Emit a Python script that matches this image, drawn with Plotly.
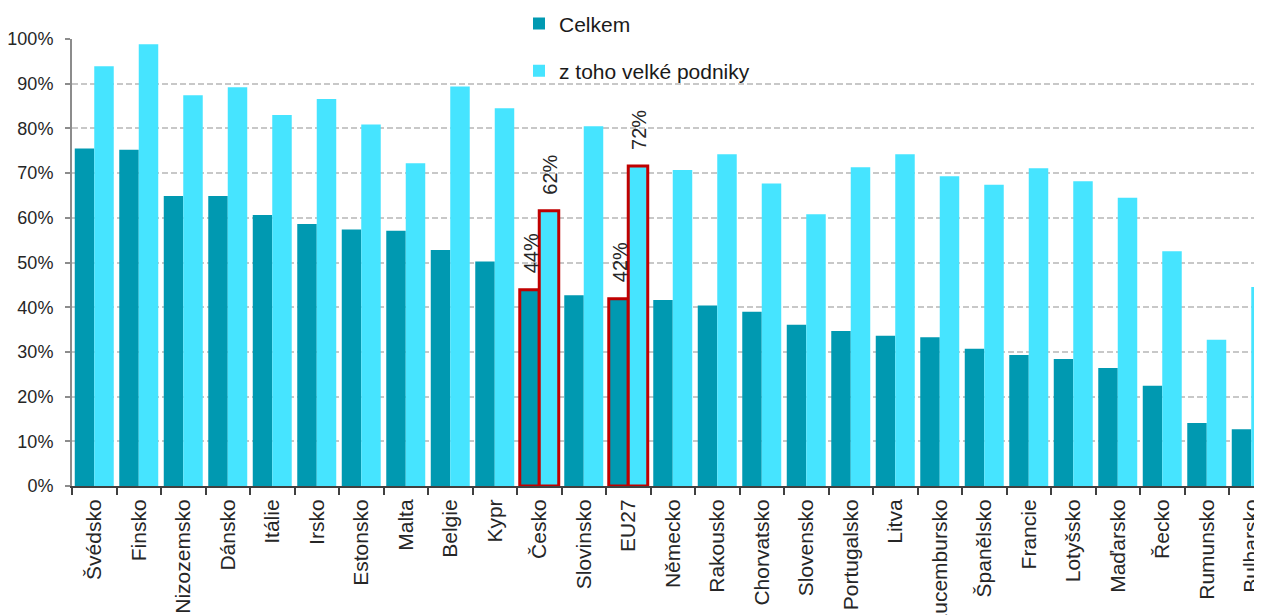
import plotly.graph_objects as go

categories = ["Švédsko", "Finsko", "Nizozemsko", "Dánsko", "Itálie", "Irsko", "Estonsko",
              "Malta", "Belgie", "Kypr", "Česko", "Slovinsko", "EU27", "Německo", "Rakousko",
              "Chorvatsko", "Slovensko", "Portugalsko", "Litva", "Lucembursko", "Španělsko",
              "Francie", "Lotyšsko", "Maďarsko", "Řecko", "Rumunsko", "Bulharsko"]
celkem = [75.5, 75.2, 64.9, 64.9, 60.6, 58.6, 57.4, 57.1, 52.8, 50.2, 43.9, 42.7, 41.9, 41.6,
          40.4, 39.0, 36.1, 34.7, 33.6, 33.3, 30.7, 29.3, 28.4, 26.4, 22.4, 14.1, 12.7]
velke = [93.9, 98.8, 87.4, 89.2, 83.0, 86.6, 80.9, 72.2, 89.4, 84.5, 61.6, 80.5, 71.6, 70.7,
         74.2, 67.7, 60.8, 71.3, 74.2, 69.3, 67.4, 71.1, 68.2, 64.5, 52.5, 32.7, 44.5]
highlighted = ["Česko", "EU27"]
series_names = ["Celkem", "z toho velké podniky"]
y_ticks = list(range(0, 101, 10))
y_tick_labels = [f"{v}%" for v in y_ticks]

DARK = "#0099B1"
LIGHT = "#46E4FF"
RED = "#C00000"
FONT = "Liberation Sans, Arial, sans-serif"

BARGAP = 0.124
PAGE_MARGIN = 8          # default body margin of the html page
PLOT_LEFT = 72 - PAGE_MARGIN
CAT_PX = 44.5
WIDTH = 1262 - PAGE_MARGIN
HEIGHT = 615 - PAGE_MARGIN

line_w = [3 if c in highlighted else 0 for c in categories]

fig = go.Figure()
for name, vals, color, grp in [(series_names[0], celkem, DARK, "a"),
                               (series_names[1], velke, LIGHT, "b")]:
    fig.add_trace(go.Bar(
        x=categories, y=vals, name=name, legendgroup=grp,
        marker=dict(color=color, line=dict(color=RED, width=line_w)),
    ))

# value labels above highlighted bars
bar_offset_px = (1 - BARGAP) / 4 * CAT_PX
for i, c in enumerate(categories):
    if c in highlighted:
        for vals, sgn in [(celkem, -1), (velke, 1)]:
            fig.add_annotation(
                x=c, y=vals[i], text=f"{round(vals[i])}%", textangle=-90,
                showarrow=False, xanchor="center", yanchor="bottom",
                xshift=sgn * bar_offset_px + 1, yshift=14,
                font=dict(family=FONT, size=20, color="#262626"),
            )

x_max = -0.5 + (WIDTH - PLOT_LEFT) / CAT_PX

fig.update_layout(
    width=WIDTH, height=HEIGHT,
    margin=dict(l=PLOT_LEFT, r=0, t=39 - PAGE_MARGIN, b=129, autoexpand=False),
    paper_bgcolor="white", plot_bgcolor="white",
    barmode="group", bargap=BARGAP, bargroupgap=0,
    font=dict(family=FONT, color="#333333"),
    showlegend=True,
    legend=dict(
        x=(519 - 72) / (1262 - 72), y=1.08, xanchor="left", yanchor="top",
        orientation="v", tracegroupgap=17,
        bgcolor="rgba(0,0,0,0)",
        font=dict(family=FONT, size=21, color="#1a1a1a"),
    ),
)
fig.update_xaxes(
    range=[-0.5, x_max], tickangle=-90,
    ticks="outside", tickson="boundaries", ticklen=7, tickwidth=2, tickcolor="#404040",
    showline=True, linecolor="#404040", linewidth=2,
    tickfont=dict(family=FONT, size=21, color="#262626"),
    ticklabelstandoff=3,
    automargin=False, showgrid=False,
)
fig.update_yaxes(
    range=[0, 100], tickmode="array", tickvals=y_ticks, ticktext=y_tick_labels,
    ticks="outside", ticklen=5, tickwidth=2, tickcolor="#8c8c8c",
    showline=True, linecolor="#8c8c8c", linewidth=2,
    showgrid=True, gridcolor="#c8c8c8", gridwidth=1.5, griddash="6px,3px",
    zeroline=False, ticklabelstandoff=8,
    tickfont=dict(family=FONT, size=18, color="#262626"),
    automargin=False,
)

fig.write_html("out.html")
